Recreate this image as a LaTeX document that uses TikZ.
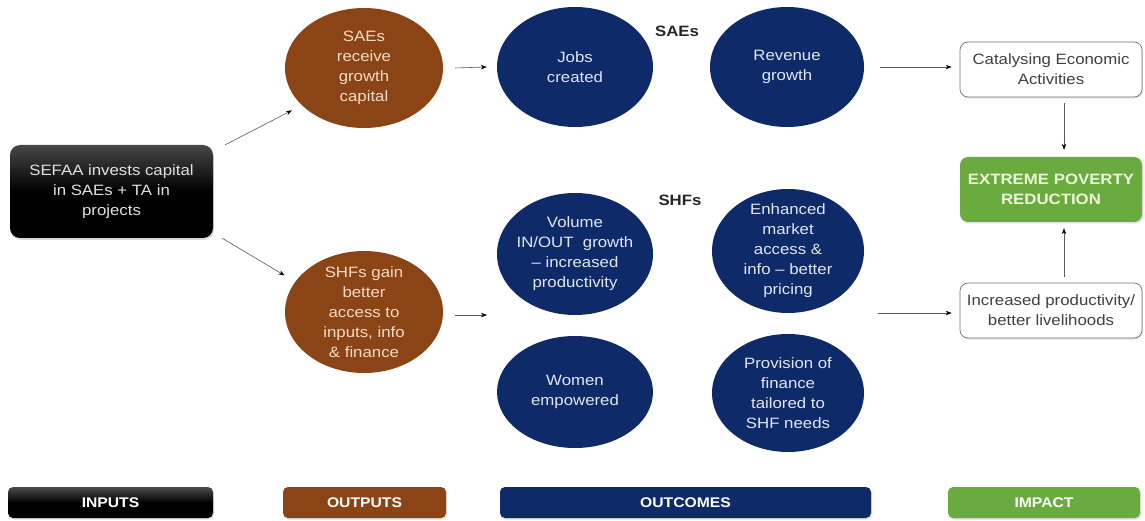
\documentclass[tikz,border=0pt]{standalone}
\usepackage{fontspec}
\setmainfont{Liberation Sans}[FakeStretch=1.12]
\usetikzlibrary{shapes.geometric,arrows.meta,shadows,calc}
\definecolor{brownc}{HTML}{8A4416}
\definecolor{navyc}{HTML}{0F2A69}
\definecolor{greenc}{HTML}{6AAB3F}
\definecolor{browntxt}{HTML}{F6DCC4}
\definecolor{navytxt}{HTML}{E2E6F0}
\definecolor{greentxt}{HTML}{EEF8D8}
\tikzset{
  txt/.style={font=\fontsize{15}{20}\selectfont, align=center},
  outp/.style={txt, ellipse, fill=brownc, text=browntxt, inner sep=-20pt, minimum width=158pt, minimum height=120pt},
  outc/.style={txt, ellipse, fill=navyc, text=navytxt, inner sep=-20pt, minimum width=156pt, minimum height=120pt},
  wbox/.style={txt, rounded corners=8pt, draw=black!55, fill=white, line width=0.7pt, minimum width=182pt, minimum height=55pt, inner sep=0pt, drop shadow={shadow xshift=1pt, shadow yshift=-1.5pt, opacity=0.25}},
  bar/.style={font=\fontsize{14}{16}\selectfont\bfseries, text=white, rounded corners=5pt, minimum height=31pt, inner sep=0pt, drop shadow={shadow xshift=1pt, shadow yshift=-1.5pt, opacity=0.25}},
  arr/.style={draw=black!65, line width=0.6pt, -{Stealth[length=6pt,width=4.5pt,color=black]}},
  lbl/.style={font=\fontsize{15}{17}\selectfont\bfseries, text=black!85}
}
\begin{document}
\begin{tikzpicture}[x=1pt,y=-1pt]
\useasboundingbox (0,0) rectangle (1145,521);
% inputs
\node[txt, text=black!12, rounded corners=10pt, minimum width=203pt, minimum height=93pt, inner sep=0pt,
  top color=black!72, bottom color=black, middle color=black,
  drop shadow={shadow xshift=1pt, shadow yshift=-2pt, opacity=0.3}] (sefaa) at (111.5,191.5)
  {SEFAA invests capital\\in SAEs + TA in\\projects};
% outputs
\node[outp] (saes) at (364,68) {SAEs\\receive\\growth\\capital};
\node[outp, minimum height=122pt] (shfs) at (364,312) {SHFs gain\\better\\access to\\inputs, info\\\& finance};
% outcomes
\node[lbl] (lsae) at (677,31) {SAEs};
\node[lbl] (lshf) at (680,200) {SHFs};
\node[outc] (jobs) at (575,67) {Jobs\\created};
\node[outc, minimum width=154pt] (rev) at (787,67) {Revenue\\growth};
\node[outc, minimum height=122pt] (vol) at (575,254) {Volume\\IN/OUT\ \ growth\\-- increased\\productivity};
\node[outc, minimum width=152pt, minimum height=124pt] (enh) at (788,251) {Enhanced\\market\\access \&\\info -- better\\pricing};
\node[outc, minimum height=112pt] (wom) at (575,392) {Women\\empowered};
\node[outc, minimum width=152pt, minimum height=118pt] (prov) at (788,393) {Provision of\\finance\\tailored to\\SHF needs};
% impact
\node[wbox, text=black!75] (cat) at (1051,69.5) {Catalysing Economic\\Activities};
\node[txt, rounded corners=8pt, fill=greenc, text=greentxt, font=\fontsize{15}{20}\selectfont\bfseries, minimum width=182pt, minimum height=65pt, inner sep=0pt,
  drop shadow={shadow xshift=1pt, shadow yshift=-1.5pt, opacity=0.25}] (pov) at (1051,189.5) {EXTREME POVERTY\\REDUCTION};
\node[wbox, text=black!75] (inc) at (1051,310.5) {Increased productivity/\\better livelihoods};
% bottom bars
\node[bar, top color=black!70, bottom color=black, middle color=black, minimum width=205pt] (bin) at (110.5,502.5) {INPUTS};
\node[bar, fill=brownc, minimum width=163pt] (bout) at (364.5,502.5) {OUTPUTS};
\node[bar, fill=navyc, minimum width=371pt] (boc) at (685.5,502.5) {OUTCOMES};
\node[bar, fill=greenc, minimum width=192pt] (bim) at (1044,502.5) {IMPACT};
% connectors
\coordinate (oin) at (487,315);
\coordinate (oout) at (878,313);
\draw[arr] ([xshift=12pt]sefaa.north east) -- ([shift={(-9,6)}]saes.210);
\draw[arr] ([xshift=9pt]sefaa.south east) -- ([xshift=-16pt]shfs.150);
\draw[arr] ([xshift=12pt]saes.east) -- ([xshift=-10pt]jobs.west);
\draw[arr] ([shift={(12,3)}]shfs.east) -- (oin);
\draw[arr] ([xshift=16pt]rev.east) -- ([xshift=-8pt]cat.west |- rev.east);
\draw[arr] (oout) -- ([xshift=-8pt]inc.west |- oout);
\draw[arr] ([shift={(13,6)}]cat.south) -- ([shift={(13,-7)}]pov.north);
\draw[arr] ([shift={(13,-6)}]inc.north) -- ([shift={(13,6)}]pov.south);
\end{tikzpicture}
\end{document}
